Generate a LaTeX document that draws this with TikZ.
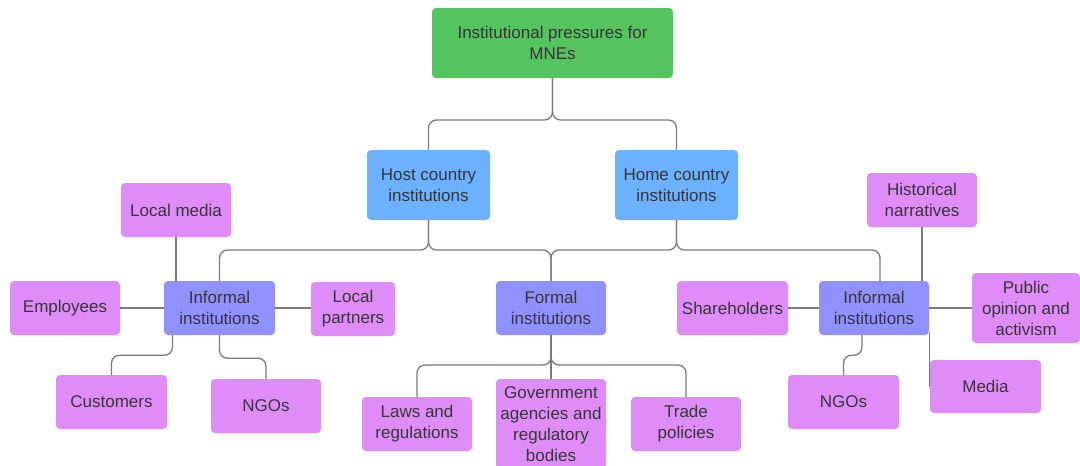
\documentclass[tikz,border=0pt]{standalone}
\usepackage{fontspec}
\setmainfont{Liberation Sans}
\definecolor{rootgreen}{HTML}{55C45F}
\definecolor{countryblue}{HTML}{6BB1FF}
\definecolor{instviolet}{HTML}{9090FF}
\definecolor{leafpink}{HTML}{E08CF8}
\definecolor{linkgray}{HTML}{7A7A7A}
\definecolor{textgray}{HTML}{363636}
\begin{document}
\begin{tikzpicture}[x=1pt, y=-1pt]
\tikzset{every node/.style={rounded corners=4pt, align=center, inner sep=0pt, text=textgray,
  font=\fontsize{17}{21}\selectfont, minimum width=110pt, minimum height=54pt}}
\tikzset{rootbox/.style={fill=rootgreen, minimum width=241pt, minimum height=70pt}}
\tikzset{countrybox/.style={fill=countryblue, minimum width=123pt, minimum height=70pt}}
\tikzset{instbox/.style={fill=instviolet}}
\tikzset{leafbox/.style={fill=leafpink}}
\useasboundingbox (0,0) rectangle (1080,466);

\node[rootbox] (root) at (552.5, 43) {Institutional pressures for\\MNEs};
\node[countrybox] (host) at (428.5, 185) {Host country\\institutions};
\node[countrybox] (home) at (676.5, 185) {Home country\\institutions};

\node[instbox, minimum width=111pt] (infL) at (219.5, 308) {Informal\\institutions};
\node[instbox] (formal) at (551, 308) {Formal\\institutions};
\node[instbox] (infR) at (874, 308) {Informal\\institutions};

\node[leafbox] (lmedia) at (176, 210) {Local media};
\node[leafbox] (employees) at (65, 308) {Employees};
\node[leafbox, minimum width=84pt] (lpartners) at (353, 309) {Local\\partners};
\node[leafbox, minimum width=111pt] (customers) at (111.5, 402) {Customers};
\node[leafbox] (ngoL) at (266, 406) {NGOs};

\node[leafbox] (laws) at (417, 424) {Laws and\\regulations};
\node[leafbox, minimum height=90pt] (gov) at (551, 424) {Government\\agencies and\\regulatory\\bodies};
\node[leafbox] (trade) at (686, 424) {Trade\\policies};

\node[leafbox] (history) at (922, 200) {Historical\\narratives};
\node[leafbox, minimum width=111pt] (share) at (732.5, 308) {Shareholders};
\node[leafbox, minimum width=108pt, minimum height=70pt] (public) at (1026, 308) {Public\\opinion and\\activism};
\node[leafbox, minimum width=111pt] (ngoR) at (843.5, 402) {NGOs};
\node[leafbox, minimum width=111pt, minimum height=53pt] (media) at (985.5, 386.5) {Media};

\tikzset{link/.style={draw=linkgray, line width=1.3pt, rounded corners=8pt}}
% top level
\draw[link] (root.south) -- (552.5, 120) -| (host.north);
\draw[link] (root.south) -- (552.5, 120) -| (home.north);
% host and home country
\draw[link] (host.south) -- (428.5, 250) -| (infL.north);
\draw[link] (host.south) -- (428.5, 250) -| (formal.north);
\draw[link] (home.south) -- (676.5, 250) -| (formal.north);
\draw[link] (home.south) -- (676.5, 250) -| ([xshift=6pt]infR.north);
% informal, host side
\draw[link] (lmedia.south) -- (lmedia.south |- infL.north);
\draw[link] (employees.east) -- (infL.west);
\draw[link] (infL.east) -- (infL.east -| lpartners.west);
\draw[link] ([xshift=-47pt]infL.south) -- ++(0, 20) -| (customers.north);
\draw[link] (infL.south) -- ++(0, 23) -| (ngoL.north);
% formal
\draw[link] (formal.south) -- (551, 365) -| (laws.north);
\draw[link] (formal.south) -- (551, 365) -| (trade.north);
\draw[link] (formal.south) -- (gov.north);
% informal, home side
\draw[link] (share.east) -- (infR.west);
\draw[link] (history.south) -- (history.south |- infR.north);
\draw[link] (infR.east) -- (public.west);
\draw[link] ([xshift=-12pt]infR.south) -- ++(0, 20) -| (ngoR.north);
\draw[link] ([xshift=0.5pt, yshift=3pt]infR.south east) -- ([xshift=0.5pt]infR.south east |- media.west);
\end{tikzpicture}
\end{document}
